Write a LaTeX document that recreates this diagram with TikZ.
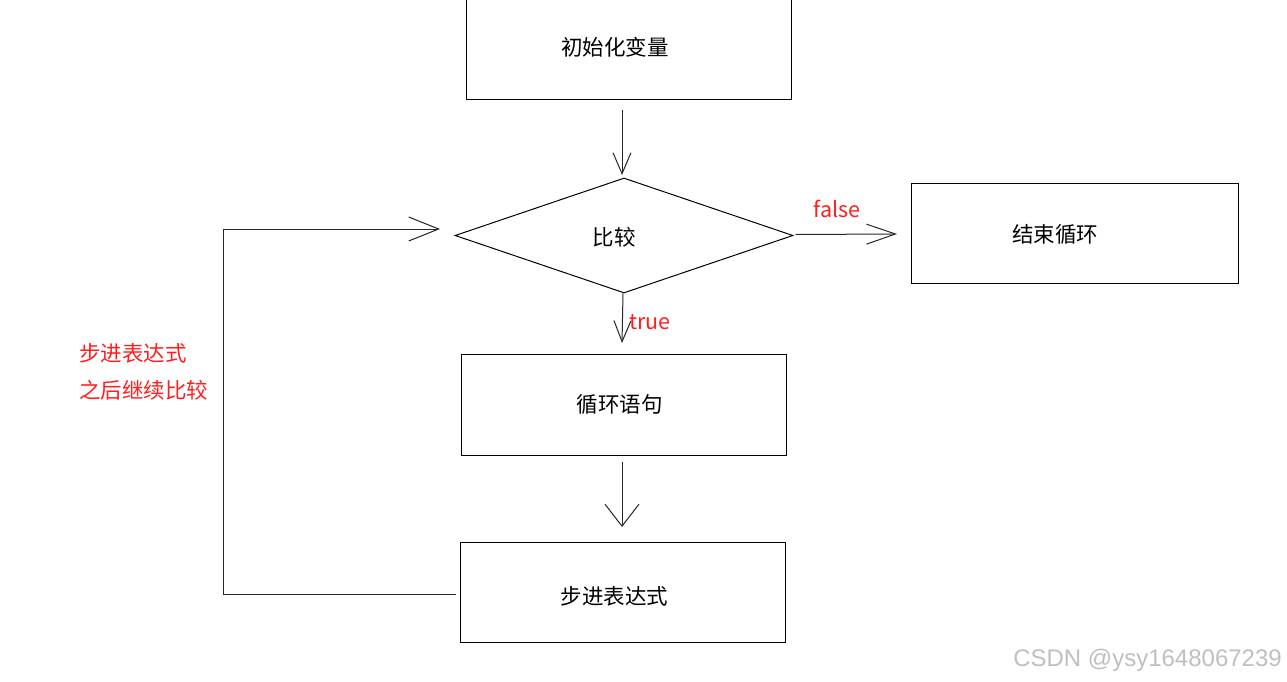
\documentclass[tikz,border=0pt]{standalone}
\usepackage{fontspec}
\setmainfont{Noto Sans CJK SC}
\newfontfamily\wmfont{Liberation Sans}
\usetikzlibrary{shapes.geometric,arrows.meta}
\begin{document}
\begin{tikzpicture}[x=1pt,y=-1pt,
  box/.style={draw=black,line width=1pt,rectangle,minimum width=325pt,minimum height=100pt,inner sep=0pt},
  lbl/.style={font=\fontsize{21.5}{25}\selectfont,inner sep=0pt,anchor=center},
  red lbl/.style={font=\fontsize{21.5}{25}\selectfont,text={rgb,255:red,255;green,30;blue,30},inner sep=0pt},
  conn/.style={draw=black!85,line width=1pt}
]
\useasboundingbox (0,0) rectangle (1287,682);
\begin{scope}
\clip (0,0) rectangle (1287,682);
\node[box,minimum width=325pt,minimum height=110pt] (init) at (628.5,45) {};
\end{scope}
\node[lbl] (initT) at (615,47) {初始化变量};

\node[draw=black,line width=1pt,diamond,minimum width=338pt,minimum height=115pt,inner sep=0pt] (cmp) at (624,235.5) {};
\node[lbl] (cmpT) at (614,237) {比较};

\node[box,minimum width=327pt] (end) at (1074.5,233) {};
\node[lbl] (endT) at (1055,234) {结束循环};

\node[box,minimum height=101pt] (body) at (623.5,404.5) {};
\node[lbl] (bodyT) at (619.5,404) {循环语句};

\node[box] (step) at (622.5,592) {};
\node[lbl] (stepT) at (614.5,596) {步进表达式};

% arrows
\coordinate (a1s) at (622,110);
\coordinate (a1e) at (622,175);
\draw[conn,-{Straight Barb[length=21pt,width=18pt,line width=1pt]}] (a1s) -- (a1e);

\coordinate (a2e) at (897,234);
\draw[conn,-{Straight Barb[length=29pt,width=20pt,line width=1pt]}] (cmp.east) ++(2,-1) -- (a2e);
\node[red lbl] (falseT) at (837,209) {false};

\coordinate (a3e) at (622,343);
\draw[conn,-{Straight Barb[length=21pt,width=17pt,line width=1pt]}] (cmp.south) ++(-1,0) -- (a3e);
\node[red lbl] (trueT) at (650,322) {true};

\coordinate (a4s) at (622,462);
\coordinate (a4e) at (622,527);
\draw[conn,-{Straight Barb[length=22pt,width=34pt,line width=1pt]}] (a4s) -- (a4e);

% loop back
\coordinate (lp1) at (223,594);
\coordinate (lp2) at (223,229);
\coordinate (lpe) at (440,229);
\draw[conn,-{Straight Barb[length=30pt,width=24pt,line width=1pt]}] (step.west) ++(-4,2) -- (lp1) -- (lp2) -- (lpe);

\node[red lbl,anchor=west] (noteA) at (79,353) {步进表达式};
\node[red lbl,anchor=west] (noteB) at (79,390) {之后继续比较};

\node[font=\wmfont\fontsize{24}{28}\selectfont,text=black!25,anchor=east,inner sep=0pt] (wm) at (1282,660) {CSDN @ysy1648067239};
\end{tikzpicture}
\end{document}
